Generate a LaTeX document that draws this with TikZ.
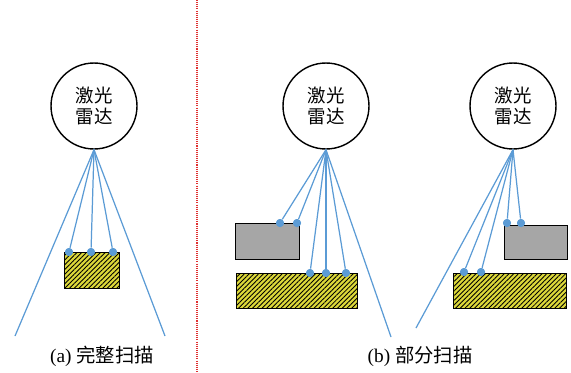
\documentclass[tikz,border=0pt]{standalone}
\usepackage{fontspec}
\setmainfont{Liberation Serif}
\newfontfamily\cjk{Noto Sans CJK SC}
\usetikzlibrary{patterns.meta}
\definecolor{ray}{HTML}{5B9BD5}
\definecolor{hatchy}{HTML}{DCD83A}
\definecolor{boxgray}{HTML}{A6A6A6}
\definecolor{divred}{HTML}{E03030}
\begin{document}
\begin{tikzpicture}[x=0.02cm,y=-0.02cm,
  lidar/.style={circle,draw,line width=0.8pt,minimum size=1.72cm,inner sep=0pt,align=center,font=\cjk\fontsize{10.5}{11.8}\selectfont},
  rayline/.style={ray,line width=0.7pt},
  hit/.style={circle,fill=ray,inner sep=0pt,minimum size=0.16cm},
  target/.style={draw,line width=0.5pt,fill=hatchy,postaction={pattern={Lines[angle=45,distance=1.9pt,line width=0.5pt]},pattern color=black}},
  block/.style={draw,line width=0.5pt,fill=boxgray},
  captxt/.style={font=\fontsize{11}{13}\selectfont},
  divider/.style={divred,line width=0.7pt,dash pattern=on 0.6pt off 0.6pt}
]
\useasboundingbox (0,0) rectangle (571,372);

% divider
\coordinate (dtop) at (197,0);
\coordinate (dbot) at (197,372);
\draw[divider] (dtop) -- (dbot);

% ---------- (a) ----------
\node[lidar] (la) at (94,106) {激光\\雷达};
\draw[target] (64,252) rectangle (119,288);
\node[hit] (a1) at (69,252) {};
\node[hit] (a2) at (91,252) {};
\node[hit] (a3) at (113,252) {};
\coordinate (aL) at (15,336);
\coordinate (aR) at (165,336);
\foreach \t in {a1,a2,a3,aL,aR}
  \draw[rayline] (la.south) -- (\t);
\foreach \t in {a1,a2,a3}
  \node[hit] at (\t) {};
\node[captxt] (capa) at (102,356) {(a) {\cjk 完整扫描}};

% ---------- (b) left ----------
\node[lidar] (lb) at (326,106) {激光\\雷达};
\draw[block] (235,223) rectangle (299,259);
\draw[target] (236,273) rectangle (357,308);
\node[hit] (b1) at (280,223) {};
\node[hit] (b2) at (297,223) {};
\node[hit] (b3) at (310,273) {};
\node[hit] (b4) at (326,273) {};
\node[hit] (b5) at (346,273) {};
\coordinate (bR) at (391,337);
\foreach \t in {b1,b2,b3,b4,b5,bR}
  \draw[rayline] (lb.south) -- (\t);
\foreach \t in {b1,b2,b3,b4,b5}
  \node[hit] at (\t) {};

% ---------- (b) right ----------
\node[lidar] (lc) at (513,106) {激光\\雷达};
\draw[block] (504,225) rectangle (567,259);
\draw[target] (453,273) rectangle (566,308);
\node[hit] (c1) at (507,223) {};
\node[hit] (c2) at (521,223) {};
\node[hit] (c3) at (464,272) {};
\node[hit] (c4) at (481,272) {};
\coordinate (cL) at (416,328);
\foreach \t in {c1,c2,c3,c4,cL}
  \draw[rayline] (lc.south) -- (\t);
\foreach \t in {c1,c2,c3,c4}
  \node[hit] at (\t) {};

\node[captxt] (capb) at (420,356) {(b) {\cjk 部分扫描}};
\end{tikzpicture}
\end{document}
